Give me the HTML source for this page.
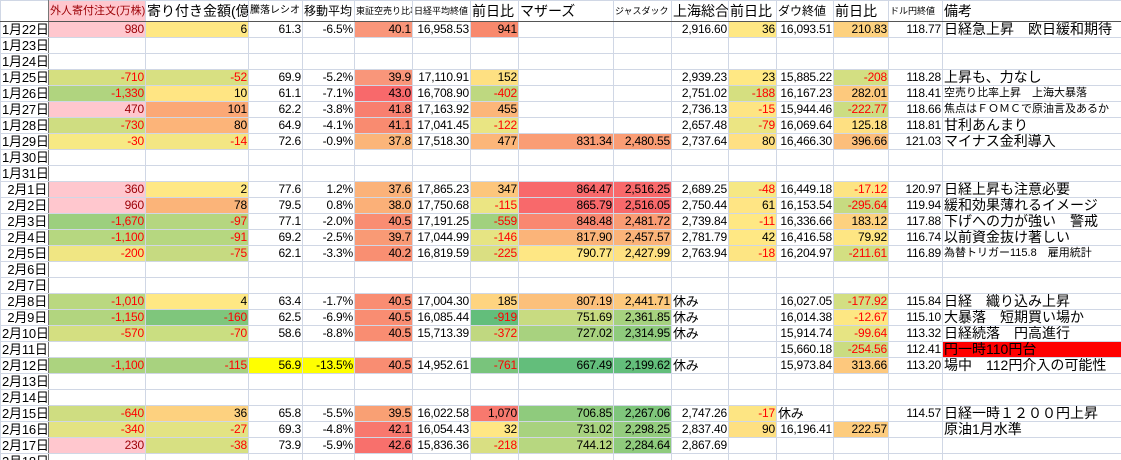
<!DOCTYPE html>
<html><head><meta charset="utf-8"><style>
html,body{margin:0;padding:0;background:#fff;width:1121px;height:460px;overflow:hidden}
table{border-collapse:collapse;table-layout:fixed;width:1121px;font-family:"Liberation Sans","Noto Sans CJK JP",sans-serif;font-size:12px;letter-spacing:-0.2px;color:#000}
td{border:1px solid #d0d7e5;height:15px;line-height:15px;padding:0 1px;white-space:nowrap;overflow:hidden;text-align:right}
tr.h td{height:20px;line-height:20px;text-align:left;font-size:14px;border-bottom:1px solid #555;letter-spacing:0}
tr.h td.s{font-size:9px}
td.rh{border-right:1px solid #777;text-align:right;font-size:13px}
td.l{text-align:left;font-size:13px}
td.o{text-align:left;font-size:14px;letter-spacing:0}
td.os{text-align:left;font-size:11px;letter-spacing:0}
.r{color:#f00}
.p{background:#ffc7ce;color:#9c0006}
</style></head><body>
<table>
<colgroup><col style="width:48px"><col style="width:97px"><col style="width:103px"><col style="width:54px"><col style="width:52px"><col style="width:58px"><col style="width:58px"><col style="width:48px"><col style="width:95px"><col style="width:58px"><col style="width:57px"><col style="width:48px"><col style="width:57px"><col style="width:55px"><col style="width:54px"><col style="width:179px"></colgroup>
<tr class="h"><td class="rh"></td><td class="p" style="font-size:11px">外人寄付注文(万株)</td><td>寄り付き金額(億)</td><td style="font-size:10px">騰落レシオ</td><td style="font-size:12px">移動平均</td><td class="s">東証空売り比率</td><td class="s">日経平均終値</td><td>前日比</td><td>マザーズ</td><td class="s">ジャスダック</td><td>上海総合</td><td>前日比</td><td style="font-size:12px">ダウ終値</td><td>前日比</td><td class="s">ドル円終値</td><td>備考</td></tr>
<tr><td class="rh">1月22日</td><td class="p">980</td><td style="background:#ffe884">6</td><td>61.3</td><td>-6.5%</td><td style="background:#f9967a">40.1</td><td>16,958.53</td><td style="background:#f8896d">941</td><td></td><td></td><td>2,916.60</td><td style="background:#ffe884">36</td><td>16,093.51</td><td style="background:#fdd17f">210.83</td><td>118.77</td><td class="o">日経急上昇　欧日緩和期待</td></tr>
<tr><td class="rh">1月23日</td><td></td><td></td><td></td><td></td><td></td><td></td><td></td><td></td><td></td><td></td><td></td><td></td><td></td><td></td><td></td></tr>
<tr><td class="rh">1月24日</td><td></td><td></td><td></td><td></td><td></td><td></td><td></td><td></td><td></td><td></td><td></td><td></td><td></td><td></td><td></td></tr>
<tr><td class="rh">1月25日</td><td class="r" style="background:#d5df80">-710</td><td class="r" style="background:#d8e082">-52</td><td>69.9</td><td>-5.2%</td><td style="background:#f9967a">39.9</td><td>17,110.91</td><td style="background:#fee082">152</td><td></td><td></td><td>2,939.23</td><td style="background:#ffe884">23</td><td>15,885.22</td><td class="r" style="background:#d3df82">-208</td><td>118.28</td><td class="o">上昇も、力なし</td></tr>
<tr><td class="rh">1月26日</td><td class="r" style="background:#b0d47f">-1,330</td><td style="background:#ffe583">10</td><td>61.1</td><td>-7.1%</td><td style="background:#f8696b">43.0</td><td>16,708.90</td><td class="r" style="background:#bed880">-402</td><td></td><td></td><td>2,751.02</td><td class="r" style="background:#d5df80">-188</td><td>16,167.23</td><td style="background:#fdc97d">282.01</td><td>118.41</td><td class="os">空売り比率上昇　上海大暴落</td></tr>
<tr><td class="rh">1月27日</td><td class="p">470</td><td style="background:#fba876">101</td><td>62.2</td><td>-3.8%</td><td style="background:#f87f6f">41.8</td><td>17,163.92</td><td style="background:#fcb679">455</td><td></td><td></td><td>2,736.13</td><td class="r" style="background:#fee583">-15</td><td>15,944.46</td><td class="r" style="background:#ccdd82">-222.77</td><td>118.66</td><td class="os">焦点はＦＯＭＣで原油言及あるか</td></tr>
<tr><td class="rh">1月28日</td><td class="r" style="background:#cfdd81">-730</td><td style="background:#fcb479">80</td><td>64.9</td><td>-4.1%</td><td style="background:#f98b70">41.1</td><td>17,041.45</td><td class="r" style="background:#e9e583">-122</td><td></td><td></td><td>2,657.48</td><td class="r" style="background:#ebe583">-79</td><td>16,069.64</td><td style="background:#fee082">125.18</td><td>118.81</td><td class="o">甘利あんまり</td></tr>
<tr><td class="rh">1月29日</td><td class="r" style="background:#f7e984">-30</td><td class="r" style="background:#f3e683">-14</td><td>72.6</td><td>-0.9%</td><td style="background:#fbb579">37.8</td><td>17,518.30</td><td style="background:#fcb679">477</td><td style="background:#fa9d75">831.34</td><td style="background:#fa9d75">2,480.55</td><td>2,737.64</td><td style="background:#ffe083">80</td><td>16,466.30</td><td style="background:#fcbe7b">396.66</td><td>121.03</td><td class="o">マイナス金利導入</td></tr>
<tr><td class="rh">1月30日</td><td></td><td></td><td></td><td></td><td></td><td></td><td></td><td></td><td></td><td></td><td></td><td></td><td></td><td></td><td></td></tr>
<tr><td class="rh">1月31日</td><td></td><td></td><td></td><td></td><td></td><td></td><td></td><td></td><td></td><td></td><td></td><td></td><td></td><td></td><td></td></tr>
<tr><td class="rh">2月1日</td><td class="p">360</td><td style="background:#ffe884">2</td><td>77.6</td><td>1.2%</td><td style="background:#fbb279">37.6</td><td>17,865.23</td><td style="background:#fdc67c">347</td><td style="background:#f8696b">864.47</td><td style="background:#f8696b">2,516.25</td><td>2,689.25</td><td class="r" style="background:#f6e884">-48</td><td>16,449.18</td><td class="r" style="background:#fde483">-17.12</td><td>120.97</td><td class="o">日経上昇も注意必要</td></tr>
<tr><td class="rh">2月2日</td><td class="p">960</td><td style="background:#fbb479">78</td><td>79.5</td><td>0.8%</td><td style="background:#fbb078">38.0</td><td>17,750.68</td><td class="r" style="background:#ebe583">-115</td><td style="background:#f8696b">865.79</td><td style="background:#f8696b">2,516.05</td><td>2,750.44</td><td style="background:#ffe584">61</td><td>16,153.54</td><td class="r" style="background:#c7db81">-295.64</td><td>119.94</td><td class="o">緩和効果薄れるイメージ</td></tr>
<tr><td class="rh">2月3日</td><td class="r" style="background:#9ccf7e">-1,670</td><td class="r" style="background:#b5d680">-97</td><td>77.1</td><td>-2.0%</td><td style="background:#f98d72">40.5</td><td>17,191.25</td><td class="r" style="background:#a1d17e">-559</td><td style="background:#f98770">848.48</td><td style="background:#fa9c74">2,481.72</td><td>2,739.84</td><td class="r" style="background:#ffe884">-11</td><td>16,336.66</td><td style="background:#fdd17f">183.12</td><td>117.88</td><td class="o">下げへの力が強い　警戒</td></tr>
<tr><td class="rh">2月4日</td><td class="r" style="background:#b6d780">-1,100</td><td class="r" style="background:#b6d780">-91</td><td>69.2</td><td>-2.5%</td><td style="background:#f99a75">39.7</td><td>17,044.99</td><td class="r" style="background:#e6e483">-146</td><td style="background:#fbb479">817.90</td><td style="background:#fbb479">2,457.57</td><td>2,781.79</td><td style="background:#ffe884">42</td><td>16,416.58</td><td style="background:#fee683">79.92</td><td>116.74</td><td class="o">以前資金抜け著しい</td></tr>
<tr><td class="rh">2月5日</td><td class="r" style="background:#f0e683">-200</td><td class="r" style="background:#c6da81">-75</td><td>62.1</td><td>-3.3%</td><td style="background:#f98f72">40.2</td><td>16,819.59</td><td class="r" style="background:#dadf82">-225</td><td style="background:#fee784">790.77</td><td style="background:#fee182">2,427.99</td><td>2,763.94</td><td class="r" style="background:#fde583">-18</td><td>16,204.97</td><td class="r" style="background:#d3df82">-211.61</td><td>116.89</td><td class="os">為替トリガー115.8　雇用統計</td></tr>
<tr><td class="rh">2月6日</td><td></td><td></td><td></td><td></td><td></td><td></td><td></td><td></td><td></td><td></td><td></td><td></td><td></td><td></td><td></td></tr>
<tr><td class="rh">2月7日</td><td></td><td></td><td></td><td></td><td></td><td></td><td></td><td></td><td></td><td></td><td></td><td></td><td></td><td></td><td></td></tr>
<tr><td class="rh">2月8日</td><td class="r" style="background:#bad880">-1,010</td><td style="background:#ffe884">4</td><td>63.4</td><td>-1.7%</td><td style="background:#f98d72">40.5</td><td>17,004.30</td><td style="background:#fed480">185</td><td style="background:#fcc07b">807.19</td><td style="background:#fdc97d">2,441.71</td><td class="l">休み</td><td></td><td>16,027.05</td><td class="r" style="background:#d3df82">-177.92</td><td>115.84</td><td class="o">日経　織り込み上昇</td></tr>
<tr><td class="rh">2月9日</td><td class="r" style="background:#b2d57f">-1,150</td><td class="r" style="background:#7fc67c">-160</td><td>62.5</td><td>-6.9%</td><td style="background:#f98d72">40.5</td><td>16,085.44</td><td class="r" style="background:#63be7b">-919</td><td style="background:#c8db81">751.69</td><td style="background:#a6d27f">2,361.85</td><td class="l">休み</td><td></td><td>16,014.38</td><td class="r" style="background:#fde783">-12.67</td><td>115.10</td><td class="o">大暴落　短期買い場か</td></tr>
<tr><td class="rh">2月10日</td><td class="r" style="background:#d4df81">-570</td><td class="r" style="background:#cade81">-70</td><td>58.6</td><td>-8.8%</td><td style="background:#f98d72">40.5</td><td>15,713.39</td><td class="r" style="background:#c0d880">-372</td><td style="background:#a8d27f">727.02</td><td style="background:#8fcb7d">2,314.95</td><td class="l">休み</td><td></td><td>15,914.74</td><td class="r" style="background:#e6e483">-99.64</td><td>113.32</td><td class="o">日経続落　円高進行</td></tr>
<tr><td class="rh">2月11日</td><td></td><td></td><td></td><td></td><td></td><td></td><td></td><td></td><td></td><td></td><td></td><td>15,660.18</td><td class="r" style="background:#cadc81">-254.56</td><td>112.41</td><td class="o" style="background:#ff0000">円一時110円台</td></tr>
<tr><td class="rh">2月12日</td><td class="r" style="background:#acd37f">-1,100</td><td class="r" style="background:#a8d27f">-115</td><td style="background:#ffff00">56.9</td><td style="background:#ffff00">-13.5%</td><td style="background:#f98d72">40.5</td><td>14,952.61</td><td class="r" style="background:#79c47c">-761</td><td style="background:#63be7b">667.49</td><td style="background:#63be7b">2,199.62</td><td class="l">休み</td><td></td><td>15,973.84</td><td style="background:#fdc87d">313.66</td><td>113.20</td><td class="o">場中　112円介入の可能性</td></tr>
<tr><td class="rh">2月13日</td><td></td><td></td><td></td><td></td><td></td><td></td><td></td><td></td><td></td><td></td><td></td><td></td><td></td><td></td><td></td></tr>
<tr><td class="rh">2月14日</td><td></td><td></td><td></td><td></td><td></td><td></td><td></td><td></td><td></td><td></td><td></td><td></td><td></td><td></td><td></td></tr>
<tr><td class="rh">2月15日</td><td class="r" style="background:#cfdd81">-640</td><td style="background:#fdd17f">36</td><td>65.8</td><td>-5.5%</td><td style="background:#f9a074">39.5</td><td>16,022.58</td><td style="background:#f8796e">1,070</td><td style="background:#8fcb7d">706.85</td><td style="background:#7fc67c">2,267.06</td><td>2,747.26</td><td class="r" style="background:#fde583">-17</td><td class="l">休み</td><td></td><td>114.57</td><td class="o">日経一時１２００円上昇</td></tr>
<tr><td class="rh">2月16日</td><td class="r" style="background:#e3e383">-340</td><td class="r" style="background:#e3e383">-27</td><td>69.3</td><td>-4.8%</td><td style="background:#f8786e">42.1</td><td>16,054.43</td><td style="background:#ffe784">32</td><td style="background:#a8d27f">731.02</td><td style="background:#94cc7e">2,298.25</td><td>2,837.40</td><td style="background:#fee082">90</td><td>16,196.41</td><td style="background:#fdcc7e">222.57</td><td></td><td class="o">原油1月水準</td></tr>
<tr><td class="rh">2月17日</td><td class="p">230</td><td class="r" style="background:#d7e082">-38</td><td>73.9</td><td>-5.9%</td><td style="background:#f8706c">42.6</td><td>15,836.36</td><td class="r" style="background:#d9df82">-218</td><td style="background:#b7d780">744.12</td><td style="background:#8fcb7d">2,284.64</td><td>2,867.69</td><td></td><td></td><td></td><td></td><td></td></tr>
<tr><td class="rh">2月18日</td><td></td><td></td><td></td><td></td><td></td><td></td><td></td><td></td><td></td><td></td><td></td><td></td><td></td><td></td><td></td></tr>
</table>
</body></html>
